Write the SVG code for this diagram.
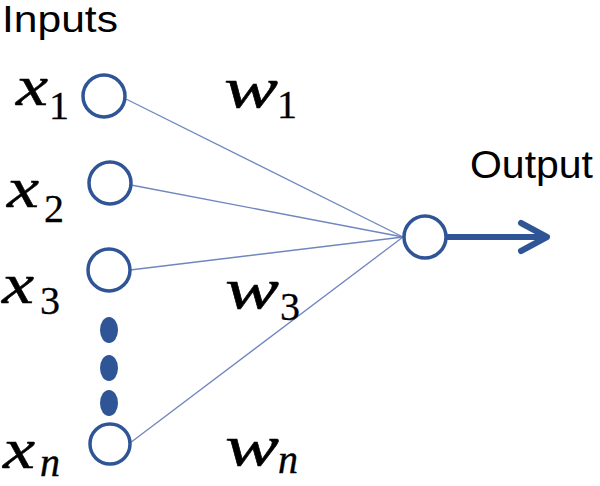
<svg xmlns="http://www.w3.org/2000/svg" width="600" height="486" viewBox="0 0 600 486">
<style>
.node{fill:#fff;stroke:#2F5597;stroke-width:3.5}
.dot{fill:#2F5597}
.edge{stroke:#6F86BE;stroke-width:1.3;fill:none}
.lbl{font-family:"Liberation Sans",Arial,sans-serif;fill:#000}
.m{font-family:"Liberation Serif","DejaVu Serif",serif;font-style:italic;font-size:56px;fill:#000;stroke:#000;stroke-width:0.5}
.sd{font-family:"Liberation Serif","DejaVu Serif",serif;font-style:normal;font-size:40px;fill:#000;stroke:#000;stroke-width:0.3}
.sn{font-family:"Liberation Serif","DejaVu Serif",serif;font-style:italic;font-size:40px;fill:#000;stroke:#000;stroke-width:0.4}
</style>
<rect width="600" height="486" fill="#fff"/>
<g id="connectors">
<line class="edge" x1="126" y1="99" x2="403" y2="237"/>
<line class="edge" x1="131" y1="185" x2="403" y2="237"/>
<line class="edge" x1="130" y1="270" x2="403" y2="237"/>
<line class="edge" x1="130" y1="443" x2="403" y2="237"/>
<g id="output-arrow" fill="none" stroke="#2F5597" stroke-linecap="round" stroke-linejoin="round">
<line x1="448" y1="237" x2="545" y2="237" stroke-width="6"/>
<polyline points="521,223 547,237 521,251" stroke-width="6"/>
</g>
</g>
<g id="title-inputs"><text class="lbl" x="2" y="32" font-size="37" textLength="116" lengthAdjust="spacingAndGlyphs">Inputs</text></g>
<g id="title-output"><text class="lbl" x="470" y="178" font-size="39" textLength="123" lengthAdjust="spacingAndGlyphs">Output</text></g>
<g id="x1"><circle class="node" cx="104" cy="96" r="21"/><text class="m" x="16" y="105" textLength="32" lengthAdjust="spacingAndGlyphs">x</text><text class="sd" x="49" y="119">1</text></g>
<g id="x2"><circle class="node" cx="110" cy="183" r="21"/><text class="m" x="7" y="207" textLength="32" lengthAdjust="spacingAndGlyphs">x</text><text class="sd" x="44" y="222">2</text></g>
<g id="x3"><circle class="node" cx="109" cy="270" r="21"/><text class="m" x="2" y="303" textLength="32" lengthAdjust="spacingAndGlyphs">x</text><text class="sd" x="40" y="314">3</text></g>
<g id="dots"><ellipse class="dot" cx="109" cy="330" rx="9" ry="13"/><ellipse class="dot" cx="109" cy="368" rx="9" ry="13"/><ellipse class="dot" cx="109" cy="403" rx="9" ry="13"/></g>
<g id="xn"><circle class="node" cx="110" cy="444" r="20"/><text class="m" x="3" y="468" textLength="32" lengthAdjust="spacingAndGlyphs">x</text><text class="sn" x="40" y="476">n</text></g>
<g id="w1"><text class="m" x="224" y="107" textLength="54" lengthAdjust="spacingAndGlyphs">w</text><text class="sd" x="277" y="118">1</text></g>
<g id="w3"><text class="m" x="225" y="308" textLength="54" lengthAdjust="spacingAndGlyphs">w</text><text class="sd" x="280" y="320">3</text></g>
<g id="wn"><text class="m" x="225" y="465" textLength="54" lengthAdjust="spacingAndGlyphs">w</text><text class="sn" x="278" y="473">n</text></g>
<g id="out"><circle class="node" cx="425" cy="237" r="21"/></g>
</svg>
